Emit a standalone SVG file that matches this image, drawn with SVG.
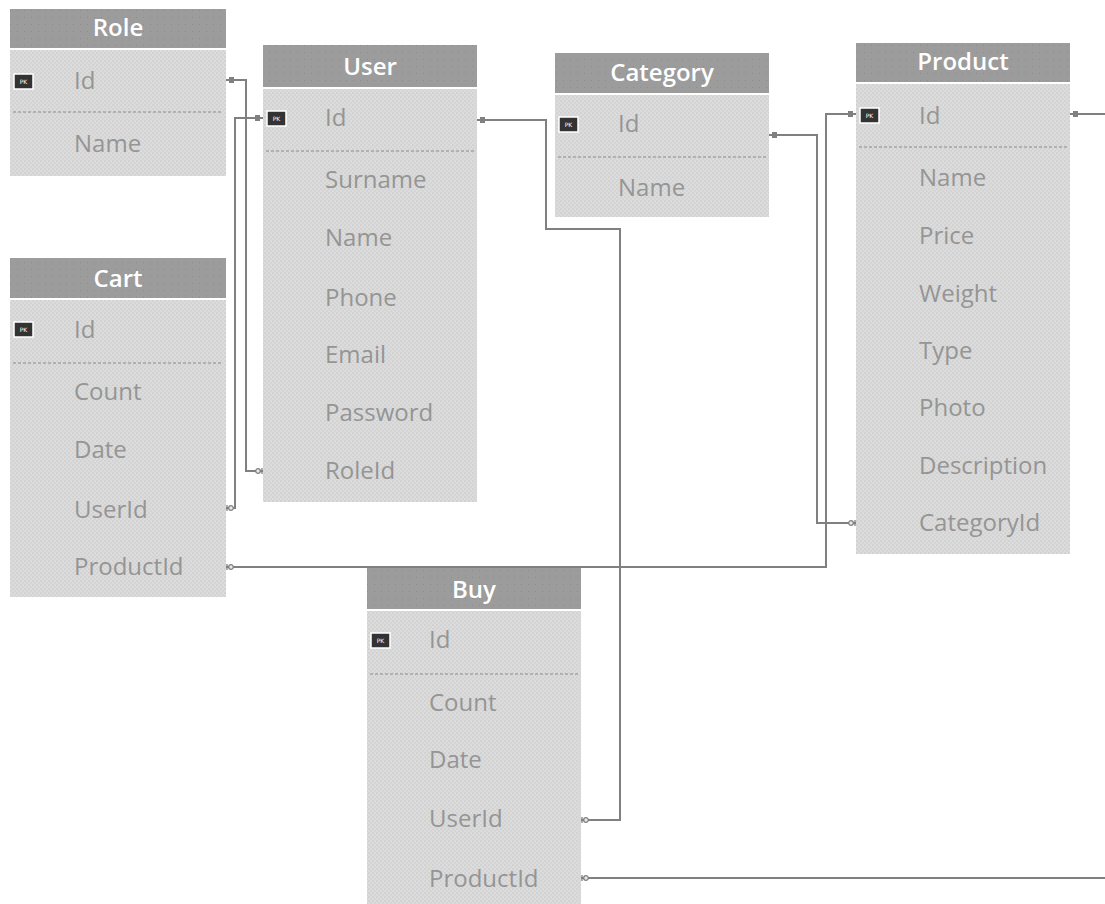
<svg xmlns="http://www.w3.org/2000/svg" width="1105" height="904" viewBox="0 0 1105 904">
<defs>
<pattern id="bodyTex" width="4" height="4" patternUnits="userSpaceOnUse">
<rect width="4" height="4" fill="#dcdcdc"/>
<rect x="0" y="0" width="2" height="2" fill="#d2d2d2"/>
<rect x="2" y="2" width="2" height="2" fill="#d4d4d4"/>
</pattern>
<pattern id="headTex" width="7" height="7" patternUnits="userSpaceOnUse">
<rect width="7" height="7" fill="#9c9c9c"/>
<rect x="3" y="3" width="1" height="1" fill="#8c8c8c"/>
</pattern>
<marker id="one" viewBox="0 0 10 10" refX="10" refY="5" markerWidth="10" markerHeight="10" markerUnits="userSpaceOnUse" orient="auto-start-reverse">
<rect x="2" y="2" width="5" height="6" fill="#808080"/>
</marker>
<marker id="many" viewBox="0 0 10 10" refX="10" refY="5" markerWidth="10" markerHeight="10" markerUnits="userSpaceOnUse" orient="auto-start-reverse">
<line x1="0" y1="5" x2="10" y2="5" stroke="#808080" stroke-width="1.5"/>
<circle cx="5" cy="5" r="2.3" fill="#e8e8e8" stroke="#808080" stroke-width="1.3"/>
<line x1="9" y1="2" x2="9" y2="8" stroke="#808080" stroke-width="1.3"/>
</marker>
</defs>
<style>
.head{fill:url(#headTex);}
.body{fill:url(#bodyTex);}
.title{font-family:"Open Sans","DejaVu Sans",sans-serif;font-size:24px;font-weight:600;fill:#ffffff;text-anchor:middle;}
.fld{font-family:"Open Sans","DejaVu Sans",sans-serif;font-size:24px;fill:#959595;}
.sep{stroke:#8a8a8a;stroke-width:1.2;stroke-dasharray:3 2;}
.pk rect{fill:#333333;stroke:#ffffff;stroke-width:1.5;}
.pk text{font-family:"DejaVu Sans",sans-serif;font-size:6px;fill:#ffffff;text-anchor:middle;}
.conn path{fill:none;stroke:#808080;stroke-width:2;}
</style>
<rect width="1105" height="904" fill="#ffffff"/>

<g id="Role">
<rect class="head" x="10" y="9" width="216" height="39"/>
<text class="title" x="118" y="36">Role</text>
<rect class="body" x="10" y="50" width="216" height="126"/>
<g class="pk"><rect x="14" y="74" width="19" height="15"/><text x="23.5" y="84">PK</text></g>
<text class="fld" x="74" y="89">Id</text>
<line class="sep" x1="13" y1="112" x2="223" y2="112"/>
<text class="fld" x="74" y="152">Name</text>
</g>

<g id="User">
<rect class="head" x="263" y="45" width="214" height="42"/>
<text class="title" x="370" y="75">User</text>
<rect class="body" x="263" y="89" width="214" height="413"/>
<g class="pk"><rect x="267" y="111" width="19" height="15"/><text x="276.5" y="121">PK</text></g>
<text class="fld" x="325" y="126">Id</text>
<line class="sep" x1="266" y1="151" x2="474" y2="151"/>
<text class="fld" x="325" y="188">Surname</text>
<text class="fld" x="325" y="246">Name</text>
<text class="fld" x="325" y="306">Phone</text>
<text class="fld" x="325" y="363">Email</text>
<text class="fld" x="325" y="421">Password</text>
<text class="fld" x="325" y="479">RoleId</text>
</g>

<g id="Category">
<rect class="head" x="555" y="53" width="214" height="40"/>
<text class="title" x="662" y="81">Category</text>
<rect class="body" x="555" y="95" width="214" height="122"/>
<g class="pk"><rect x="559" y="117" width="19" height="15"/><text x="568.5" y="127">PK</text></g>
<text class="fld" x="618" y="132">Id</text>
<line class="sep" x1="558" y1="157" x2="766" y2="157"/>
<text class="fld" x="618" y="196">Name</text>
</g>

<g id="Product">
<rect class="head" x="856" y="43" width="214" height="39"/>
<text class="title" x="963" y="70">Product</text>
<rect class="body" x="856" y="84" width="214" height="470"/>
<g class="pk"><rect x="860" y="108" width="19" height="15"/><text x="869.5" y="118">PK</text></g>
<text class="fld" x="919" y="124">Id</text>
<line class="sep" x1="859" y1="147" x2="1067" y2="147"/>
<text class="fld" x="919" y="186">Name</text>
<text class="fld" x="919" y="244">Price</text>
<text class="fld" x="919" y="302">Weight</text>
<text class="fld" x="919" y="359">Type</text>
<text class="fld" x="919" y="416">Photo</text>
<text class="fld" x="919" y="474">Description</text>
<text class="fld" x="919" y="531">CategoryId</text>
</g>

<g id="Cart">
<rect class="head" x="10" y="258" width="216" height="40"/>
<text class="title" x="118" y="287">Cart</text>
<rect class="body" x="10" y="300" width="216" height="297"/>
<g class="pk"><rect x="14" y="322" width="19" height="15"/><text x="23.5" y="332">PK</text></g>
<text class="fld" x="74" y="338">Id</text>
<line class="sep" x1="13" y1="363" x2="223" y2="363"/>
<text class="fld" x="74" y="400">Count</text>
<text class="fld" x="74" y="458">Date</text>
<text class="fld" x="74" y="518">UserId</text>
<text class="fld" x="74" y="575">ProductId</text>
</g>

<g id="Buy">
<rect class="head" x="367" y="567" width="214" height="42"/>
<text class="title" x="474" y="598">Buy</text>
<rect class="body" x="367" y="611" width="214" height="293"/>
<g class="pk"><rect x="371" y="633" width="19" height="15"/><text x="380.5" y="643">PK</text></g>
<text class="fld" x="429" y="648">Id</text>
<line class="sep" x1="370" y1="674" x2="578" y2="674"/>
<text class="fld" x="429" y="711">Count</text>
<text class="fld" x="429" y="768">Date</text>
<text class="fld" x="429" y="827">UserId</text>
<text class="fld" x="429" y="887">ProductId</text>
</g>

<g id="connectors" class="conn">
<path d="M226,80 H246 V471 H263" marker-start="url(#one)" marker-end="url(#many)"/>
<path d="M263,118 H235 V508 H226" marker-start="url(#one)" marker-end="url(#many)"/>
<path d="M477,120 H546 V229 H620 V820 H581" marker-start="url(#one)" marker-end="url(#many)"/>
<path d="M769,135 H817 V523 H856" marker-start="url(#one)" marker-end="url(#many)"/>
<path d="M856,114 H826 V567 H226" marker-start="url(#one)" marker-end="url(#many)"/>
<path d="M1070,114 H1105" marker-start="url(#one)"/>
<path d="M581,878 H1105" marker-start="url(#many)"/>
</g>
</svg>
